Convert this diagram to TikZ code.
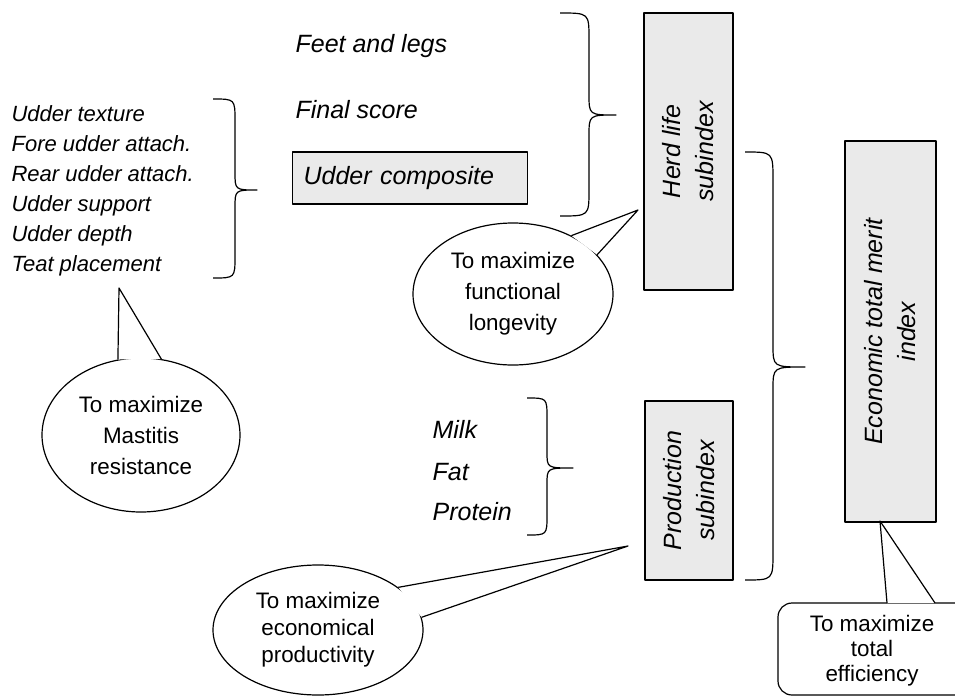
\documentclass[tikz,border=0pt]{standalone}
\usepackage{fontspec}
\setmainfont{Liberation Sans}
\usetikzlibrary{shapes.geometric}
\definecolor{boxgray}{RGB}{234,234,234}
% a: end x, b: stem x, c: tip x, t: top y, m: tip y, u: bottom y, r: curve radius
\newcommand{\mybrace}[7]{%
  \draw (#1,#4) .. controls (#2,#4) .. (#2,#4+#7) -- (#2,#5-0.8*#7)
        .. controls (#2,#5) .. (#3,#5)
        .. controls (#2,#5) .. (#2,#5+0.8*#7) -- (#2,#6-#7)
        .. controls (#2,#6) .. (#1,#6);}
\begin{document}
\begin{tikzpicture}[x=1pt,y=-1pt,line width=1.2pt,line join=round,
  lbl/.style={font=\fontsize{25}{30}\selectfont\itshape,inner sep=0pt},
  lst/.style={font=\fontsize{22}{28}\selectfont\itshape,inner sep=0pt},
  gbox/.style={draw,fill=boxgray,inner sep=0pt},
  boxlbl/.style={gbox,rotate=90,align=center,font=\fontsize{25}{33}\selectfont\itshape},
  callout/.style={draw,fill=white,ellipse,inner sep=0pt,align=center},
]
\useasboundingbox (0,0) rectangle (955,696);
\clip (0,0) rectangle (955,696);

% herd life group
\node[lbl,anchor=base west] (feet) at (295,52) {Feet and legs};
\node[lbl,anchor=base west] (final) at (295,118) {Final score};
\node[gbox,lbl,anchor=west,minimum height=52,text width=213,inner xsep=11,align=left] (udc) at (292,178) {Udder composite};
\mybrace{560}{589}{616}{13}{115}{216}{26}
\node[boxlbl,minimum width=277,minimum height=89] (herd) at (688.5,151.5) {Herd life\\subindex};

% udder list
\node[lst,anchor=base west] (u1) at (11,121) {Udder texture};
\node[lst,anchor=base west] (u2) at (11,151) {Fore udder attach.};
\node[lst,anchor=base west] (u3) at (11,181) {Rear udder attach.};
\node[lst,anchor=base west] (u4) at (11,211) {Udder support};
\node[lst,anchor=base west] (u5) at (11,241) {Udder depth};
\node[lst,anchor=base west] (u6) at (11,271) {Teat placement};
\mybrace{213}{235}{257}{99}{190}{278}{22}

% production group
\node[lbl,anchor=base west] (milk) at (432,438) {Milk};
\node[lbl,anchor=base west] (fat) at (432,480) {Fat};
\node[lbl,anchor=base west] (prot) at (432,520) {Protein};
\mybrace{527}{547}{573}{398}{468}{535}{20}
\node[boxlbl,minimum width=179,minimum height=88] (prodbox) at (689,490.5) {Production\\subindex};

% total merit
\mybrace{745}{773}{805}{152}{367}{580}{28}
\node[boxlbl,minimum width=381,minimum height=91] (econ) at (890.5,331.5) {Economic total merit\\index};

% callout: mastitis
\node[callout,minimum width=198,minimum height=154,font=\fontsize{22.4}{31}\selectfont] (mast) at (141,435) {To maximize\\Mastitis\\resistance};
\coordinate (mtip) at (119,288);
\fill[white] (mast.107) -- (mtip) -- (mast.75) -- cycle;
\draw (mast.107) -- (mtip) -- (mast.75);

% callout: longevity
\node[callout,minimum width=200,minimum height=142,font=\fontsize{22.4}{31}\selectfont] (lon) at (513,294) {To maximize\\functional\\longevity};
\coordinate (ltip) at (638,210);
\fill[white] (lon.45) -- (ltip) -- (lon.25) -- cycle;
\draw (lon.45) -- (ltip) -- (lon.25);

% callout: productivity
\node[callout,minimum width=210,minimum height=130,font=\fontsize{22.4}{27}\selectfont] (prodc) at (318,630) {To maximize\\economical\\productivity};
\coordinate (ptip) at (628,546);
\fill[white] (prodc.28) -- (ptip) -- (prodc.7.5) -- cycle;
\draw (prodc.28) -- (ptip) -- (prodc.7.5);

% callout: efficiency
\node[draw,fill=white,rounded corners=14pt,minimum width=222,minimum height=92,inner sep=0pt] (effbox) at (889,649) {};
\node[inner sep=0pt,align=center,font=\fontsize{22.4}{25}\selectfont] (efft) at (872,651) {To maximize\\total\\efficiency};
\coordinate (e1) at (887,603);
\coordinate (e2) at (935,603);
\coordinate (etip) at (880,521);
\fill[white] (e1) -- (etip) -- (e2) -- cycle;
\draw (e1) -- (etip) -- (e2);
\end{tikzpicture}
\end{document}
